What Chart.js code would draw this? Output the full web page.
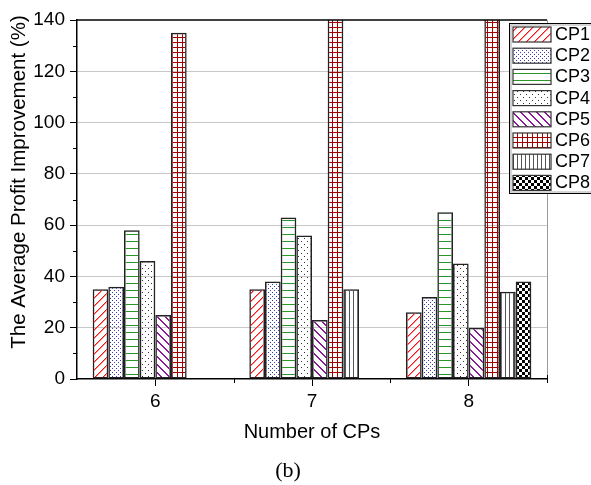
<!DOCTYPE html>
<html><head><meta charset="utf-8">
<script src="https://cdn.jsdelivr.net/npm/chart.js@4.4.1/dist/chart.umd.min.js"></script>
<style>html,body{margin:0;padding:0;background:#fff;}</style>
</head><body>
<canvas id="c" width="591" height="485"></canvas>
<script>
// ---- data ----
const categories = ['6', '7', '8'];
const seriesNames = ['CP1', 'CP2', 'CP3', 'CP4', 'CP5', 'CP6', 'CP7', 'CP8'];
const cp1 = [35, 35, 26];
const cp2 = [36, 38, 32];
const cp3 = [58, 63, 65];
const cp4 = [46, 56, 45];
const cp5 = [25, 23, 20];
const cp6 = [135, 150, 150];
const cp7 = [null, 35, 34];
const cp8 = [null, null, 38];
const yTickValues = [0, 20, 40, 60, 80, 100, 120, 140];
const xTitle = 'Number of CPs';
const yTitle = 'The Average Profit Improvement (%)';
const caption = '(b)';

const canvas = document.getElementById('c');
const ctx = canvas.getContext('2d');

function tile(w, h, draw) {
  const t = document.createElement('canvas');
  t.width = w; t.height = h;
  const g = t.getContext('2d');
  draw(g, w, h);
  return ctx.createPattern(t, 'repeat');
}
function diagUp(g, w, h, core, soft) { // "/" lines
  for (let i = 0; i < w; i++) {
    g.fillStyle = core; g.fillRect(i, h - 1 - i, 1, 1);
    g.fillStyle = soft; g.fillRect((i + 1) % w, h - 1 - i, 1, 1);
  }
}
function diagDown(g, w, h) { // "\" lines
  for (let i = 0; i < w; i++) { g.fillRect(i, i, 1, 1); if (i + 1 < w) g.fillRect(i + 1, i, 1, 1); }
  g.fillRect(0, h - 1, 1, 1);
}
const patterns = [
  tile(8, 8, (g, w, h) => { diagUp(g, w, h, '#ff1010', '#ff8c8c'); }),
  tile(4, 4, (g) => { g.fillStyle = '#3a3aaa'; g.fillRect(0, 0, 1, 1); g.fillRect(2, 2, 1, 1); }),
  tile(4, 7, (g) => { g.fillStyle = '#2a962a'; g.fillRect(0, 3, 4, 1); }),
  tile(6, 6, (g) => { g.fillStyle = '#333'; g.fillRect(1, 1, 1, 1); g.fillRect(4, 4, 1, 1); }),
  tile(8, 8, (g, w, h) => { g.fillStyle = '#8a1a9a'; diagDown(g, w, h); }),
  tile(5, 5, (g) => { g.fillStyle = '#a00000'; g.fillRect(2, 0, 1, 5); g.fillRect(0, 2, 5, 1); }),
  tile(4, 4, (g) => { g.fillStyle = '#555'; g.fillRect(1, 0, 1, 4); }),
  tile(6, 6, (g) => { g.fillStyle = '#000'; g.fillRect(0, 0, 3, 3); g.fillRect(3, 3, 3, 3); })
];
const seriesData = [cp1, cp2, cp3, cp4, cp5, cp6, cp7, cp8];

const datasets = seriesNames.map((name, i) => ({
  label: name,
  data: seriesData[i],
  backgroundColor: patterns[i],
  borderColor: '#222',
  borderWidth: 1.5,
  borderSkipped: false,
  clip: 0
}));

const FONT = '"Liberation Sans", Arial, sans-serif';

const decor = {
  id: 'decor',
  afterDraw(chart) {
    const c = chart.ctx;
    const a = chart.chartArea;
    const ys = chart.scales.y, xs = chart.scales.x;
    c.save();
    c.strokeStyle = '#000'; c.lineWidth = 1.5;
    c.beginPath(); c.moveTo(a.left, a.top); c.lineTo(a.right, a.top); c.stroke();
    c.strokeStyle = '#999'; c.lineWidth = 1;
    c.beginPath(); c.moveTo(a.right + 0.5, a.top); c.lineTo(a.right + 0.5, a.bottom); c.stroke();
    c.strokeStyle = '#000'; c.lineWidth = 1;
    for (let k = 0; k < yTickValues.length - 1; k++) {
      const v = (yTickValues[k] + yTickValues[k + 1]) / 2;
      const y = Math.round(ys.getPixelForValue(v)) + 0.5;
      c.beginPath(); c.moveTo(a.left - 4, y); c.lineTo(a.left, y); c.stroke();
    }
    for (let k = 0; k < categories.length - 1; k++) {
      const x = Math.round((xs.getPixelForValue(k) + xs.getPixelForValue(k + 1)) / 2) + 0.5;
      c.beginPath(); c.moveTo(x, a.bottom); c.lineTo(x, a.bottom + 4); c.stroke();
    }
    c.beginPath(); c.moveTo(a.right + 0.5, a.bottom - 4); c.lineTo(a.right + 0.5, a.bottom + 4); c.stroke();
    c.fillStyle = '#000';
    c.font = '20.5px ' + FONT;
    c.textAlign = 'center'; c.textBaseline = 'middle';
    c.translate(19, 182); c.rotate(-Math.PI / 2);
    c.fillText(yTitle, 0, 0);
    c.setTransform(1, 0, 0, 1, 0, 0);
    c.font = '22px "Liberation Serif", "Times New Roman", serif';
    c.fillText(caption, 288, 471);
    const lx = 509.5, ly = 23.5, lh = 170;
    c.fillStyle = '#fff';
    c.fillRect(lx, ly, 120, lh);
    c.strokeStyle = '#000'; c.lineWidth = 1;
    c.strokeRect(lx, ly, 120, lh);
    c.strokeStyle = '#aaa';
    c.strokeRect(lx + 1.5, ly + 1.5, 120, lh - 3);
    c.font = '18px ' + FONT;
    c.textAlign = 'left'; c.textBaseline = 'middle';
    for (let i = 0; i < seriesNames.length; i++) {
      const sy = 27 + i * 21.2;
      c.fillStyle = '#fff';
      c.fillRect(513, sy, 38, 15);
      c.fillStyle = patterns[i];
      c.fillRect(513, sy, 38, 15);
      c.strokeStyle = '#333'; c.lineWidth = 1.2;
      c.strokeRect(513, sy, 38, 15);
      c.fillStyle = '#000';
      c.fillText(seriesNames[i], 555, sy + 8);
    }
    c.restore();
  }
};

new Chart(canvas, {
  type: 'bar',
  data: { labels: categories, datasets },
  options: {
    responsive: false,
    animation: false,
    devicePixelRatio: 1,
    layout: { padding: { top: 20, right: 44, left: 0, bottom: 0 } },
    plugins: { legend: { display: false }, tooltip: { enabled: false } },
    datasets: { bar: { categoryPercentage: 0.8, barPercentage: 1.0 } },
    scales: {
      x: {
        type: 'category',
        offset: true,
        afterFit(s) { s.height = 106; },
        grid: { offset: false, drawOnChartArea: false, tickLength: 7, tickColor: '#000', tickWidth: 1 },
        border: { display: true, color: '#000', width: 1.5 },
        ticks: { color: '#000', font: { family: FONT, size: 19 }, padding: 4 },
        title: { display: true, text: xTitle, color: '#000', font: { family: FONT, size: 20 }, padding: { top: 0, bottom: 41 } }
      },
      y: {
        min: 0, max: 140,
        afterFit(s) { s.width = 77; },
        afterBuildTicks(s) { s.ticks = yTickValues.map(v => ({ value: v })); },
        grid: {
          color: (c) => (c.tick && (c.tick.value === 0 || c.tick.value === 140)) ? 'rgba(0,0,0,0)' : '#c8c8c8',
          lineWidth: 1, tickLength: 7, tickColor: '#000', tickWidth: 1
        },
        border: { display: true, color: '#000', width: 1.5 },
        ticks: { color: '#000', font: { family: FONT, size: 19 }, padding: 5 }
      }
    }
  },
  plugins: [decor]
});
</script>
</body></html>
